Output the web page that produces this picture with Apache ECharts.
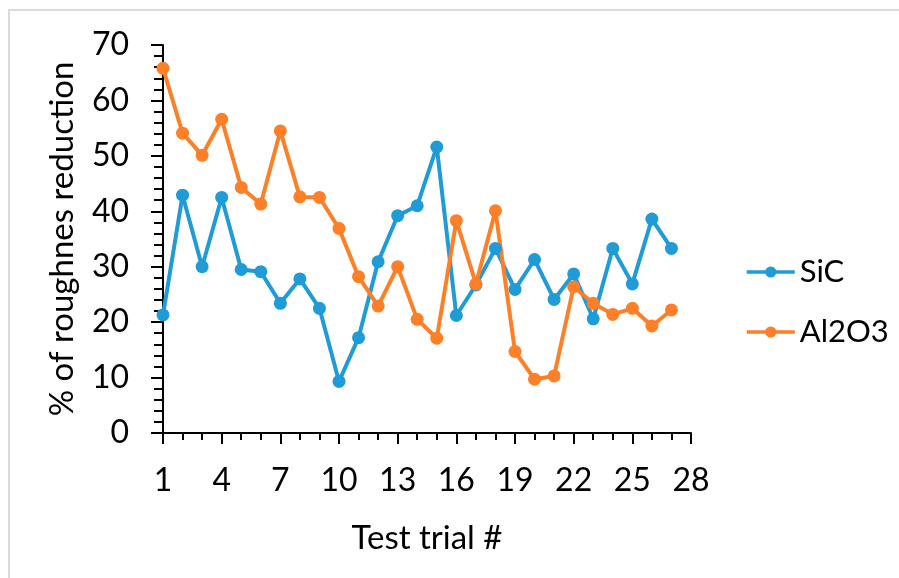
<!DOCTYPE html>
<html>
<head>
<meta charset="utf-8">
<script src="https://cdn.jsdelivr.net/npm/echarts@6/dist/echarts.min.js"></script>
<style>
  html, body { margin: 0; padding: 0; background: #fff; }
  #chart { width: 899px; height: 578px; }
</style>
</head>
<body>
<div id="chart"></div>
<script>
// Test trial numbers
const trials = [1,2,3,4,5,6,7,8,9,10,11,12,13,14,15,16,17,18,19,20,21,22,23,24,25,26,27];
// % of roughness reduction per trial
const sicValues = [21.3,42.9,30.0,42.5,29.5,29.1,23.4,27.8,22.5,9.3,17.2,30.9,39.2,41.0,51.6,21.2,26.7,33.3,25.9,31.3,24.1,28.7,20.6,33.3,26.9,38.6,33.3];
const al2o3Values = [65.8,54.1,50.1,56.6,44.3,41.3,54.5,42.6,42.5,36.9,28.2,22.9,30.0,20.5,17.1,38.3,26.9,40.1,14.7,9.7,10.3,26.4,23.4,21.4,22.5,19.3,22.2];
const seriesNames = ['SiC', 'Al2O3'];
const seriesColors = ['#1f9bd7', '#fd7f27'];

const FONT = 'Lato';
const pairs = v => trials.map((t, i) => [t, v[i]]);

const chart = echarts.init(document.getElementById('chart'), null, { renderer: 'canvas' });

function makeSeries(name, values, color) {
  return {
    name: name,
    type: 'line',
    data: pairs(values),
    symbol: 'circle',
    symbolSize: 13,
    showSymbol: true,
    lineStyle: { color: color, width: 4 },
    itemStyle: { color: color },
    emphasis: { disabled: true },
    animation: false
  };
}

chart.setOption({
  animation: false,
  backgroundColor: '#ffffff',
  textStyle: { fontFamily: FONT },
  graphic: [{
    type: 'rect',
    shape: { x: 9, y: 10, width: 1000, height: 1000 },
    style: { fill: 'none', stroke: '#d9d9d9', lineWidth: 2 },
    silent: true
  }],
  grid: { left: 163, right: 208, top: 45, bottom: 145, containLabel: false },
  legend: {
    orient: 'vertical',
    left: 740,
    top: 249,
    itemWidth: 48,
    itemHeight: 14,
    itemGap: 24,
    data: seriesNames,
    textStyle: { fontFamily: FONT, fontSize: 31, color: '#000', lineHeight: 36 },
    itemStyle: { borderWidth: 0 },
    lineStyle: { width: 3.5 }
  },
  xAxis: {
    type: 'value',
    min: 1,
    max: 28,
    interval: 3,
    name: 'Test trial #',
    nameLocation: 'middle',
    nameGap: 89,
    nameTextStyle: { fontFamily: FONT, fontSize: 33, color: '#000' },
    axisLine: { show: true, onZero: false, lineStyle: { color: '#000', width: 2 } },
    axisTick: { show: true, length: 11, lineStyle: { color: '#000', width: 2 } },
    minorTick: { show: true, splitNumber: 3, length: 7, lineStyle: { color: '#000', width: 2 } },
    splitLine: { show: false },
    axisLabel: { fontFamily: FONT, fontSize: 32, color: '#000', margin: 32 }
  },
  yAxis: {
    type: 'value',
    min: 0,
    max: 70,
    interval: 10,
    name: '% of roughnes reduction',
    nameLocation: 'middle',
    nameGap: 84,
    nameRotate: 90,
    nameTextStyle: { fontFamily: FONT, fontSize: 33, color: '#000' },
    axisLine: { show: true, lineStyle: { color: '#000', width: 2 } },
    axisTick: { show: true, length: 12, lineStyle: { color: '#000', width: 2 } },
    minorTick: { show: true, splitNumber: 5, length: 9, lineStyle: { color: '#000', width: 2 } },
    splitLine: { show: false },
    axisLabel: { fontFamily: FONT, fontSize: 32, color: '#000', margin: 34 }
  },
  series: [
    makeSeries(seriesNames[0], sicValues, seriesColors[0]),
    makeSeries(seriesNames[1], al2o3Values, seriesColors[1])
  ]
});
</script>
</body>
</html>
